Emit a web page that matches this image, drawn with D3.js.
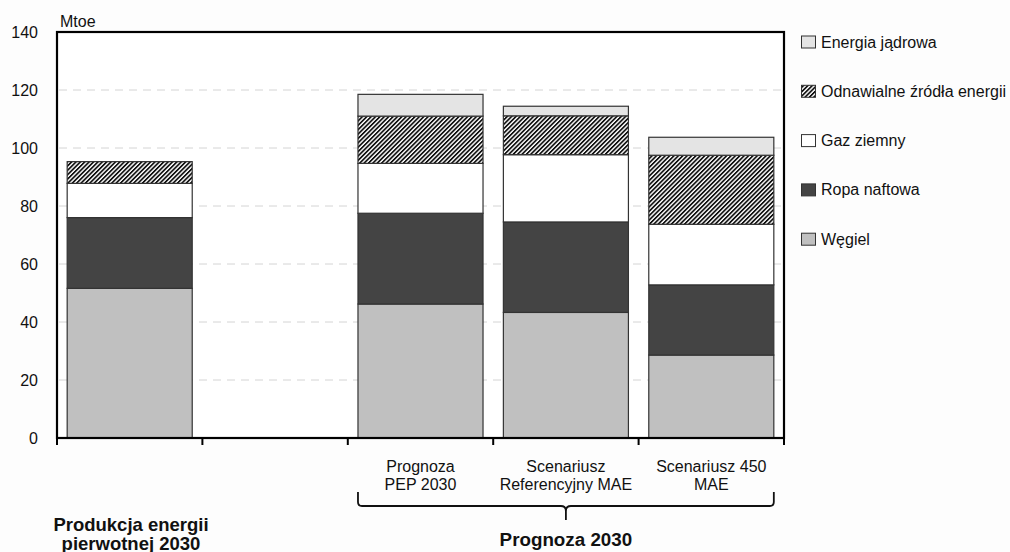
<!DOCTYPE html>
<html>
<head>
<meta charset="utf-8">
<script src="https://cdn.jsdelivr.net/npm/d3@7/dist/d3.min.js"></script>
<style>
  html, body { margin: 0; padding: 0; background: #fdfdfd; }
  svg { display: block; font-family: Arial, "Liberation Sans", sans-serif; }
</style>
</head>
<body>
<svg id="chart" width="1010" height="552"></svg>
<script>
// Columns of the chart (the second one is an empty spacer column)
const categories = ["prod", "spacer", "pep", "ref", "s450"];
const categoryLabels = [[], [], ["Prognoza", "PEP 2030"], ["Scenariusz", "Referencyjny MAE"], ["Scenariusz 450", "MAE"]];

// Primary energy by source, Mtoe
const wegiel      = [51.6, 0, 46.2, 43.3, 28.6];
const ropa        = [24.4, 0, 31.3, 31.2, 24.2];
const gaz         = [11.8, 0, 17.2, 23.2, 20.9];
const odnawialne  = [ 7.5, 0, 16.3, 13.4, 23.8];
const jadrowa     = [ 0.0, 0,  7.5,  3.3,  6.2];

const seriesKeys  = ["wegiel", "ropa", "gaz", "odnawialne", "jadrowa"];
const seriesNames = ["Węgiel", "Ropa naftowa", "Gaz ziemny", "Odnawialne źródła energii", "Energia jądrowa"];
const yTicks = [0, 20, 40, 60, 80, 100, 120, 140];

const table = categories.map((c, i) => ({
  cat: c,
  wegiel: wegiel[i], ropa: ropa[i], gaz: gaz[i], odnawialne: odnawialne[i], jadrowa: jadrowa[i]
}));

const svg = d3.select("#chart");
const plotL = 57, plotR = 784, plotT = 32, plotB = 438;
const FONT = "Arial, 'Liberation Sans', sans-serif";

const x = d3.scaleBand().domain(categories).range([plotL, plotR]).paddingInner(0.14).paddingOuter(0.07);
const xSlots = d3.scaleBand().domain(categories).range([plotL, plotR]).padding(0);
const y = d3.scaleLinear().domain([0, 140]).range([plotB, plotT]);

// Diagonal hatch for renewables
const defs = svg.append("defs");
const pat = defs.append("pattern")
  .attr("id", "hatch").attr("patternUnits", "userSpaceOnUse")
  .attr("width", 3.1).attr("height", 3.1)
  .attr("patternTransform", "rotate(45)");
pat.append("rect").attr("width", 3.1).attr("height", 3.1).attr("fill", "#fff");
pat.append("rect").attr("width", 1.7).attr("height", 3.1).attr("fill", "#111");

const fills = {
  wegiel: "#c0c0c0",
  ropa: "#444444",
  gaz: "#ffffff",
  odnawialne: "url(#hatch)",
  jadrowa: "#e4e4e4"
};

// Plot background
svg.append("rect").attr("x", plotL).attr("y", plotT).attr("width", plotR - plotL).attr("height", plotB - plotT).attr("fill", "#fff");

// Dashed gridlines
svg.append("g").selectAll("line")
  .data(yTicks.filter(t => t > 0 && t < 140))
  .join("line")
  .attr("x1", plotL + 2).attr("x2", plotR - 2)
  .attr("y1", d => y(d)).attr("y2", d => y(d))
  .attr("stroke", "#d4d4d4").attr("stroke-width", 1)
  .attr("stroke-dasharray", "8,6");

// Stacked bars
const stack = d3.stack().keys(seriesKeys);
const layers = stack(table);
svg.append("g").selectAll("g")
  .data(layers)
  .join("g")
  .attr("fill", d => fills[d.key])
  .selectAll("rect")
  .data(d => d.filter(s => s.data.cat !== "spacer" && s[1] - s[0] > 0))
  .join("rect")
  .attr("x", d => x(d.data.cat))
  .attr("width", x.bandwidth())
  .attr("y", d => y(d[1]))
  .attr("height", d => y(d[0]) - y(d[1]))
  .attr("stroke", "#333").attr("stroke-width", 1.2);

// Frame
svg.append("rect").attr("x", plotL).attr("y", plotT).attr("width", plotR - plotL).attr("height", plotB - plotT)
  .attr("fill", "none").attr("stroke", "#000").attr("stroke-width", 2.2);

// Y axis labels
const yAxis = d3.axisLeft(y).tickValues(yTicks).tickSize(0).tickPadding(19);
const gy = svg.append("g").attr("transform", `translate(${plotL},0)`).call(yAxis);
gy.select(".domain").remove();
gy.attr("font-size", 16).attr("font-family", FONT);
gy.selectAll("text").attr("fill", "#111");

svg.append("text").attr("x", plotL + 3).attr("y", 26.5).attr("font-size", 16).attr("fill", "#111").text("Mtoe");

// X axis ticks at column boundaries
const bounds = categories.map(c => xSlots(c)).concat([plotR]);
svg.append("g").selectAll("line")
  .data(bounds)
  .join("line")
  .attr("x1", d => d).attr("x2", d => d)
  .attr("y1", plotB).attr("y2", plotB + 7)
  .attr("stroke", "#000").attr("stroke-width", 2);

// Category labels
const lab = svg.append("g").attr("font-size", 16).attr("fill", "#111").attr("text-anchor", "middle");
categories.forEach((c, i) => {
  categoryLabels[i].forEach((line, j) => {
    lab.append("text")
      .attr("x", xSlots(c) + xSlots.bandwidth() / 2)
      .attr("y", 472 + j * 18)
      .text(line);
  });
});

// Brace grouping the forecast columns
const bx0 = x("pep"), bx1 = x("s450") + x.bandwidth();
const bmid = (bx0 + bx1) / 2;
const bTop = 492, bLine = 506, bTip = 520;
const brace = d3.path();
brace.moveTo(bx0, bTop);
brace.lineTo(bx0, bLine - 4);
brace.quadraticCurveTo(bx0, bLine, bx0 + 4, bLine);
brace.lineTo(bmid - 5, bLine);
brace.quadraticCurveTo(bmid, bLine, bmid, bLine + 5);
brace.lineTo(bmid, bTip);
brace.moveTo(bmid, bLine + 5);
brace.quadraticCurveTo(bmid, bLine, bmid + 5, bLine);
brace.lineTo(bx1 - 4, bLine);
brace.quadraticCurveTo(bx1, bLine, bx1, bLine - 4);
brace.lineTo(bx1, bTop);
svg.append("path").attr("d", brace.toString()).attr("fill", "none").attr("stroke", "#111").attr("stroke-width", 1.8);

// Group titles
svg.append("text").attr("x", bmid).attr("y", 546).attr("text-anchor", "middle")
  .attr("font-size", 18.8).attr("font-weight", "bold").attr("fill", "#111").text("Prognoza 2030");
const gProd = svg.append("g").attr("text-anchor", "middle").attr("font-size", 18.5).attr("font-weight", "bold").attr("fill", "#111");
gProd.append("text").attr("x", 131).attr("y", 531).text("Produkcja energii");
gProd.append("text").attr("x", 131).attr("y", 550).text("pierwotnej 2030");

// Legend, top to bottom: nuclear ... coal
const legendOrder = seriesKeys.slice().reverse();
const legend = svg.append("g").selectAll("g")
  .data(legendOrder)
  .join("g")
  .attr("transform", (d, i) => `translate(801, ${42 + i * 49.3})`);
legend.append("rect")
  .attr("x", 0.5).attr("y", -6).attr("width", 14).attr("height", 12)
  .attr("fill", d => fills[d]).attr("stroke", "#333").attr("stroke-width", 1);
legend.append("text")
  .attr("x", 20).attr("y", 5.5).attr("font-size", 16).attr("fill", "#111")
  .text(d => seriesNames[seriesKeys.indexOf(d)]);
</script>
</body>
</html>
